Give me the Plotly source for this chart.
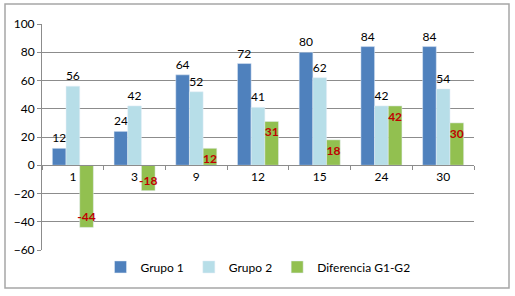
import plotly.graph_objects as go

categories = ["1", "3", "9", "12", "15", "24", "30"]
grupo1 = [12, 24, 64, 72, 80, 84, 84]
grupo2 = [56, 42, 52, 41, 62, 42, 54]
diferencia = [-44, -18, 12, 31, 18, 42, 30]
y_ticks = [-60, -40, -20, 0, 20, 40, 60, 80, 100]

FONT = "Lato, Liberation Sans, sans-serif"

fig = go.Figure()
fig.add_trace(go.Bar(
    name="Grupo 1", x=categories, y=grupo1, marker_color="#4F81BD",
    text=grupo1, textposition="outside", constraintext="none", cliponaxis=False,
    textangle=0, textfont=dict(color="#000000", size=12, family=FONT),
))
fig.add_trace(go.Bar(
    name="Grupo 2", x=categories, y=grupo2, marker_color="#B7DEE8",
    text=grupo2, textposition="outside", constraintext="none", cliponaxis=False,
    textangle=0, textfont=dict(color="#000000", size=12, family=FONT),
))
fig.add_trace(go.Bar(
    name="Diferencia G1-G2", x=categories, y=diferencia, marker_color="#92C050",
    text=[f"<b>{v}</b>" for v in diferencia], textposition="inside",
    insidetextanchor="end", constraintext="none", cliponaxis=False, textangle=0,
    textfont=dict(color="#C00000", size=12, family=FONT),
))

fig.update_layout(
    width=515, height=296,
    margin=dict(l=42, r=41, t=24, b=46),
    paper_bgcolor="white", plot_bgcolor="white",
    barmode="group", bargap=0.335, bargroupgap=0,
    font=dict(family=FONT, size=12, color="#000000"),
    showlegend=True,
    legend=dict(orientation="h", x=0.5, xanchor="center", y=-0.075, yanchor="middle",
                font=dict(size=12, family=FONT), itemwidth=30, tracegroupgap=0),
    xaxis=dict(
        type="category", anchor="free", position=0.375,
        showline=True, linecolor="#8C8C8C", linewidth=1,
        ticks="outside", tickson="boundaries", ticklen=4, tickcolor="#8C8C8C",
        showgrid=False, tickfont=dict(size=12, family=FONT),
    ),
    yaxis=dict(
        range=[-60, 100], tickvals=y_ticks, showgrid=True, gridcolor="#8C8C8C",
        gridwidth=1, showline=True, linecolor="#8C8C8C", ticks="outside",
        ticklen=4, tickcolor="#8C8C8C", zeroline=False,
        tickfont=dict(size=12, family=FONT),
    ),
    shapes=[dict(type="rect", xref="paper", yref="paper",
                 x0=-37/432, x1=467/432, y0=-38/226, y1=(250-4)/226,
                 line=dict(color="#A6A6A6", width=1.5), fillcolor="rgba(0,0,0,0)")],
)

fig.write_html("out.html", config={"displayModeBar": False},
               post_script="document.body.style.margin='0';")
